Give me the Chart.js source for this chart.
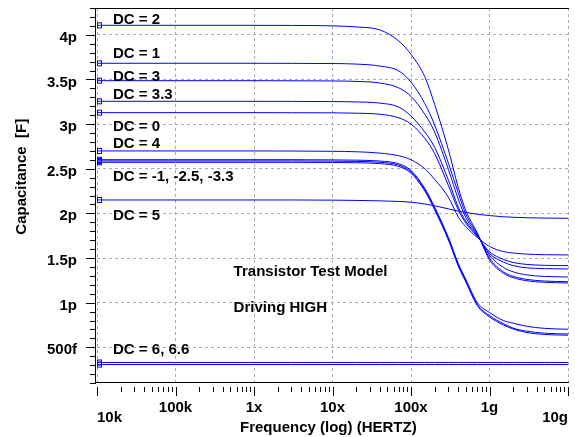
<!DOCTYPE html>
<html>
<head>
<meta charset="utf-8">
<title>Transistor Test Model - Capacitance vs Frequency</title>
<script src="https://cdn.jsdelivr.net/npm/chart.js@4.4.1/dist/chart.umd.min.js"></script>
<style>
  html, body { margin: 0; padding: 0; background: #fff; }
  canvas { display: block; }
</style>
</head>
<body>
<canvas id="capChart" width="575" height="437"></canvas>
<script>
// AC sweep frequencies (Hz)
const freqs = [1e4, 1e5, 1e6, 3e6, 1e7, 2e7, 4e7, 7e7, 1e8, 1.5e8, 2e8, 3e8, 4e8, 5e8, 7e8, 1e9, 1.5e9, 2e9, 3e9, 5e9, 1e10];

// capacitance in pF for each DC bias
const capDC2   = [4.106, 4.106, 4.106, 4.105, 4.100, 4.088, 4.055, 3.930, 3.780, 3.530, 3.220, 2.710, 2.290, 2.030, 1.780, 1.480, 1.330, 1.280, 1.245, 1.228, 1.220];
const capDC1   = [3.681, 3.681, 3.681, 3.680, 3.678, 3.672, 3.650, 3.595, 3.470, 3.230, 2.990, 2.560, 2.230, 1.990, 1.770, 1.500, 1.345, 1.295, 1.260, 1.242, 1.235];
const capDC3   = [3.486, 3.486, 3.486, 3.485, 3.483, 3.478, 3.460, 3.405, 3.310, 3.110, 2.910, 2.490, 2.160, 1.950, 1.760, 1.530, 1.395, 1.345, 1.310, 1.294, 1.287];
const capDC33  = [3.255, 3.255, 3.255, 3.254, 3.252, 3.248, 3.235, 3.190, 3.090, 2.910, 2.740, 2.370, 2.070, 1.910, 1.750, 1.550, 1.455, 1.415, 1.390, 1.381, 1.377];
const capDC0   = [3.128, 3.128, 3.128, 3.127, 3.126, 3.122, 3.110, 3.070, 3.000, 2.840, 2.670, 2.310, 2.040, 1.890, 1.740, 1.570, 1.485, 1.450, 1.428, 1.418, 1.414];
const capDC4   = [2.699, 2.699, 2.699, 2.698, 2.695, 2.690, 2.675, 2.645, 2.600, 2.500, 2.380, 2.180, 1.960, 1.850, 1.730, 1.630, 1.572, 1.556, 1.543, 1.537, 1.534];
const capDCm1  = [2.601, 2.601, 2.601, 2.601, 2.599, 2.596, 2.586, 2.555, 2.480, 2.280, 2.070, 1.730, 1.440, 1.260, 1.000, 0.890, 0.800, 0.770, 0.735, 0.712, 0.702];
const capDCm25 = [2.587, 2.587, 2.587, 2.587, 2.585, 2.582, 2.572, 2.540, 2.465, 2.265, 2.055, 1.715, 1.425, 1.245, 0.980, 0.855, 0.765, 0.715, 0.680, 0.658, 0.649];
const capDCm33 = [2.572, 2.572, 2.572, 2.572, 2.570, 2.567, 2.557, 2.525, 2.450, 2.250, 2.040, 1.700, 1.410, 1.230, 0.965, 0.840, 0.750, 0.705, 0.665, 0.644, 0.635];
const capDC5   = [2.150, 2.150, 2.150, 2.150, 2.148, 2.145, 2.140, 2.133, 2.125, 2.105, 2.085, 2.050, 2.025, 2.010, 1.990, 1.975, 1.962, 1.956, 1.951, 1.947, 1.945];
const capDC6   = [0.330, 0.330, 0.330, 0.330, 0.330, 0.330, 0.330, 0.330, 0.330, 0.330, 0.330, 0.330, 0.330, 0.330, 0.330, 0.330, 0.330, 0.330, 0.330, 0.330, 0.330];
const capDC66  = [0.307, 0.307, 0.307, 0.307, 0.307, 0.307, 0.307, 0.307, 0.307, 0.307, 0.307, 0.307, 0.307, 0.307, 0.307, 0.307, 0.307, 0.307, 0.307, 0.307, 0.307];

const curveNames = ['DC = 2', 'DC = 1', 'DC = 3', 'DC = 3.3', 'DC = 0', 'DC = 4',
                    'DC = -1', 'DC = -2.5', 'DC = -3.3', 'DC = 5', 'DC = 6', 'DC = 6.6'];
const curveValues = [capDC2, capDC1, capDC3, capDC33, capDC0, capDC4,
                     capDCm1, capDCm25, capDCm33, capDC5, capDC6, capDC66];

const xTickValues = [1e4, 1e5, 1e6, 1e7, 1e8, 1e9, 1e10];
const xTickLabels = ['10k', '100k', '1x', '10x', '100x', '1g', '10g'];
const yTickValues = [0.5, 1, 1.5, 2, 2.5, 3, 3.5, 4];
const yTickLabels = ['500f', '1p', '1.5p', '2p', '2.5p', '3p', '3.5p', '4p'];

// text notes, anchored in data units (Hz, pF) at the text baseline
const notes = [
  { text: 'DC = 2', f: 1.6e4, c: 4.121 },
  { text: 'DC = 1', f: 1.6e4, c: 3.737 },
  { text: 'DC = 3', f: 1.6e4, c: 3.482 },
  { text: 'DC = 3.3', f: 1.6e4, c: 3.281 },
  { text: 'DC = 0', f: 1.6e4, c: 2.922 },
  { text: 'DC = 4', f: 1.6e4, c: 2.735 },
  { text: 'DC = -1, -2.5, -3.3', f: 1.6e4, c: 2.363 },
  { text: 'DC = 5', f: 1.6e4, c: 1.926 },
  { text: 'DC = 6, 6.6', f: 1.6e4, c: 0.422 },
  { text: 'Transistor Test Model', f: 5.5e5, c: 1.298 },
  { text: 'Driving HIGH', f: 5.5e5, c: 0.892 }
];

const FONT = '"Liberation Sans", Arial, Helvetica, sans-serif';
const BLUE = 'rgb(0,0,255)';

Chart.defaults.font.family = FONT;
Chart.defaults.font.size = 15;
Chart.defaults.font.weight = 'bold';
Chart.defaults.color = '#000';

// start-of-trace marker: hollow square sitting just right of the point
const marker = document.createElement('canvas');
marker.width = 12;
marker.height = 8;
(function () {
  const m = marker.getContext('2d');
  m.strokeStyle = BLUE;
  m.lineWidth = 1;
  m.strokeRect(6.5, 1.5, 4, 5);
})();

const datasets = curveNames.map((name, i) => ({
  label: name,
  data: freqs.map((f, j) => ({ x: f, y: curveValues[i][j] })),
  borderColor: BLUE,
  borderWidth: 1,
  cubicInterpolationMode: 'monotone',
  pointStyle: marker,
  pointRadius: ctx => ctx.dataIndex === 0 ? 4 : 0,
  pointHoverRadius: 0,
  clip: false
}));

// frame lines plus major/minor tick marks
const frameTicks = {
  id: 'frameTicks',
  afterDraw(chart) {
    const { ctx, chartArea: { left, right, top, bottom }, scales: { x, y } } = chart;
    ctx.save();
    ctx.strokeStyle = '#000';
    ctx.lineWidth = 1;
    ctx.beginPath();
    ctx.moveTo(left - 2, top + 0.5);
    ctx.lineTo(right + 1, top + 0.5);
    ctx.moveTo(left - 1.5, top);
    ctx.lineTo(left - 1.5, bottom);
    ctx.moveTo(left - 2, bottom - 0.5);
    ctx.lineTo(right + 1, bottom - 0.5);

    // y: every 0.1p, longer at each labelled step
    for (let i = 1; i <= 43; i++) {
      const py = Math.round(y.getPixelForValue(i / 10)) + 0.5;
      const len = i % 5 === 0 ? 10 : 6;
      ctx.moveTo(left - 1 - len, py);
      ctx.lineTo(left - 1, py);
    }
    // x: 1..9 per decade
    for (let d = 4; d <= 10; d++) {
      for (let k = 1; k <= 9; k++) {
        const f = k * Math.pow(10, d);
        if (f > 1e10) break;
        const px = Math.round(x.getPixelForValue(f)) + 0.5;
        const len = k === 1 ? 9 : 5;
        ctx.moveTo(px, bottom + 4);
        ctx.lineTo(px, bottom + 4 + len);
      }
    }
    ctx.stroke();
    ctx.restore();
  }
};

const noteLabels = {
  id: 'noteLabels',
  afterDatasetsDraw(chart) {
    const { ctx, scales: { x, y } } = chart;
    ctx.save();
    ctx.font = 'bold 15px ' + FONT;
    ctx.fillStyle = '#000';
    ctx.textAlign = 'left';
    ctx.textBaseline = 'alphabetic';
    notes.forEach(n => ctx.fillText(n.text, x.getPixelForValue(n.f), y.getPixelForValue(n.c)));
    ctx.restore();
  }
};

new Chart(document.getElementById('capChart'), {
  type: 'line',
  data: { datasets },
  options: {
    responsive: false,
    animation: false,
    events: [],
    layout: { padding: { top: 8, right: 7, bottom: 0, left: 0 } },
    plugins: { legend: { display: false }, tooltip: { enabled: false } },
    scales: {
      x: {
        type: 'logarithmic',
        min: 1e4,
        max: 1e10,
        afterBuildTicks: scale => { scale.ticks = xTickValues.map(value => ({ value })); },
        afterFit: scale => { scale.height = 54; scale.paddingLeft = 0; scale.paddingRight = 0; },
        grid: { color: '#aaa', drawTicks: false },
        border: { display: false, dash: [3, 3] },
        ticks: {
          autoSkip: false,
          maxRotation: 0,
          align: 'inner',
          padding: 20,
          font: { size: 15, weight: 'bold', lineHeight: '10px' },
          // end labels sit one line lower
          callback: (value, i) => (i === 0 || i === xTickLabels.length - 1) ? ['', xTickLabels[i]] : xTickLabels[i]
        },
        title: {
          display: true,
          text: 'Frequency (log) (HERTZ)  ',
          font: { size: 15, weight: 'bold' },
          padding: { top: 0, bottom: 0 }
        }
      },
      y: {
        type: 'linear',
        min: 0.1,
        max: 4.3,
        afterBuildTicks: scale => { scale.ticks = yTickValues.map(value => ({ value })); },
        afterFit: scale => { scale.width = 97; scale.paddingTop = 0; scale.paddingBottom = 0; },
        grid: { color: '#aaa', drawTicks: false },
        border: { display: false, dash: [3, 3] },
        ticks: {
          padding: 20,
          labelOffset: 3,
          font: { size: 15, weight: 'bold' },
          callback: (value, i) => yTickLabels[i]
        },
        title: {
          display: true,
          // leading spaces lift the title above the axis centre
          text: '         Capacitance  [F]',
          font: { size: 15, weight: 'bold' },
          padding: { top: 13, bottom: 0 }
        }
      }
    }
  },
  plugins: [frameTicks, noteLabels]
});
</script>
</body>
</html>
